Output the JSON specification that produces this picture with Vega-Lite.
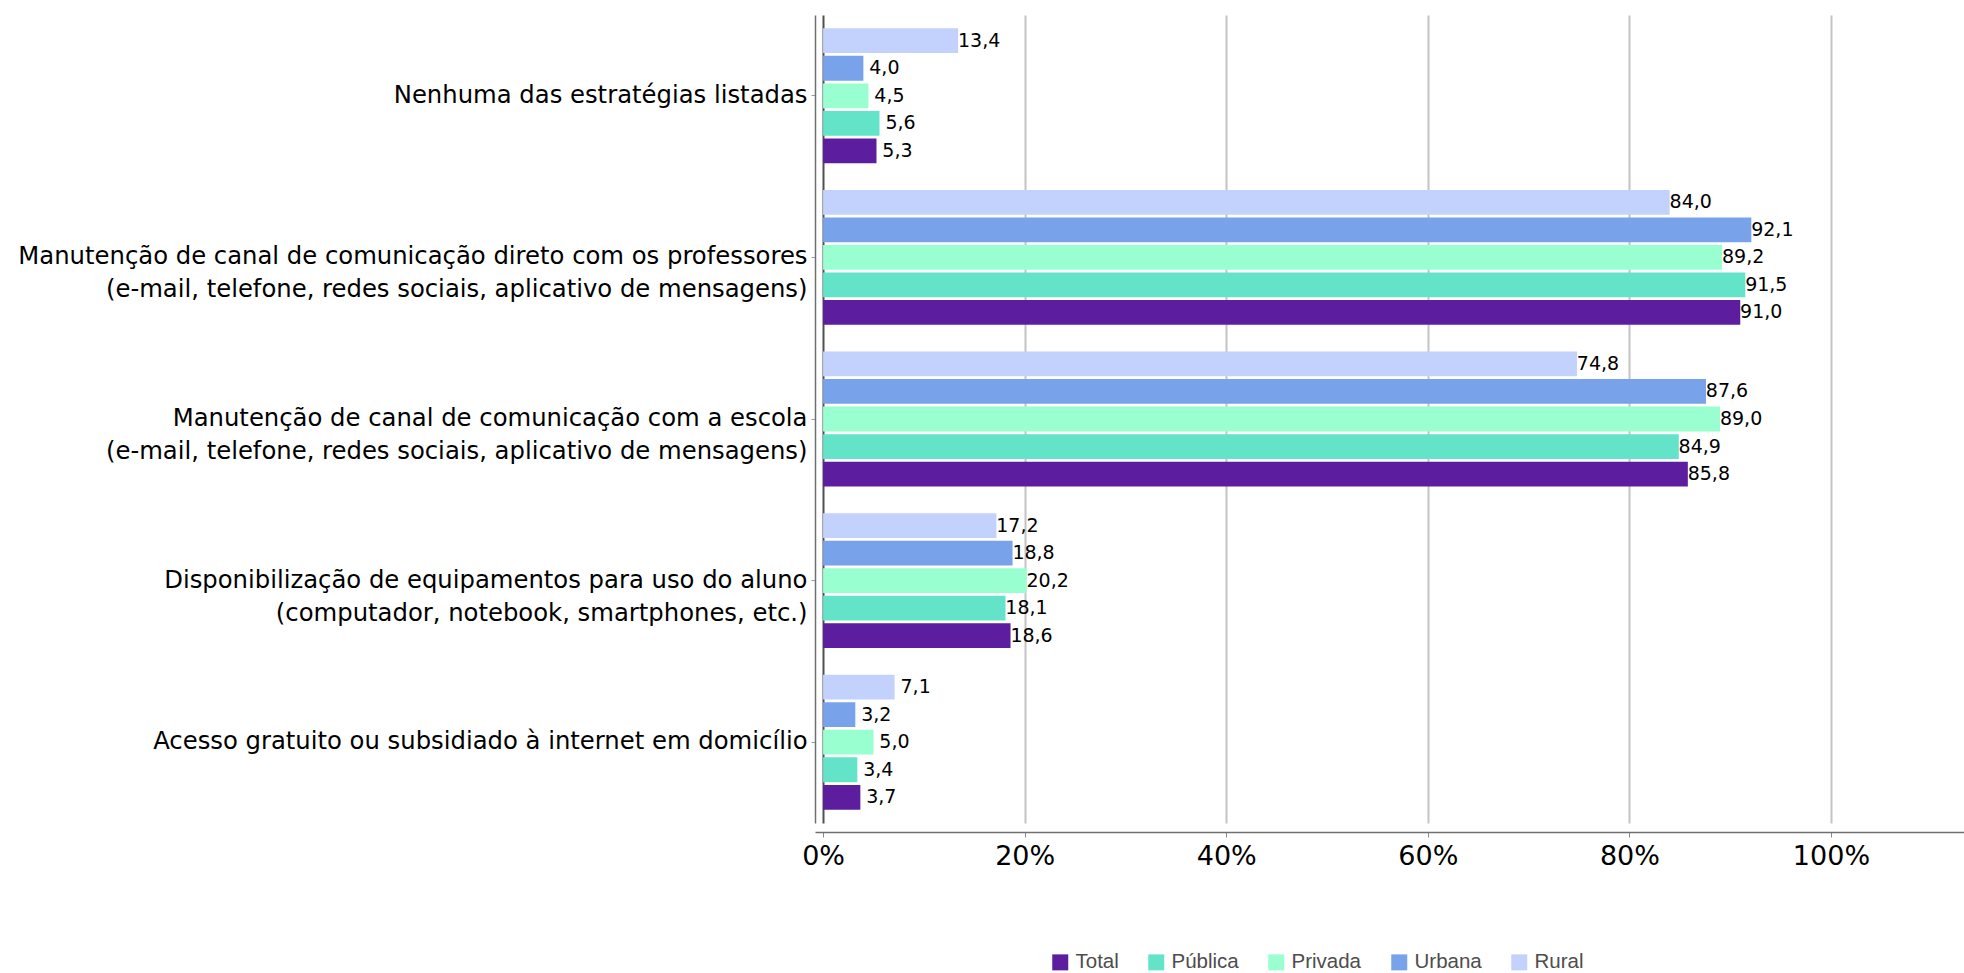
{
  "$schema": "https://vega.github.io/schema/vega-lite/v6.json",
  "width": 1149,
  "height": 808,
  "autosize": {"type": "none"},
  "padding": {"left": 815, "top": 15, "right": 0, "bottom": 150},
  "background": "white",
  "config": {
    "view": {"stroke": null},
    "locale": {"number": {"decimal": ",", "thousands": ".", "grouping": [3], "currency": ["R$", ""]}}
  },
  "data": {
    "values": [
      {"estrategia": "Nenhuma das estratégias listadas", "grupo": "Total", "valor": 5.3},
      {"estrategia": "Nenhuma das estratégias listadas", "grupo": "Pública", "valor": 5.6},
      {"estrategia": "Nenhuma das estratégias listadas", "grupo": "Privada", "valor": 4.5},
      {"estrategia": "Nenhuma das estratégias listadas", "grupo": "Urbana", "valor": 4.0},
      {"estrategia": "Nenhuma das estratégias listadas", "grupo": "Rural", "valor": 13.4},
      {"estrategia": "Manutenção de canal de comunicação direto com os professores\u00a0\n(e-mail, telefone, redes sociais, aplicativo de mensagens)", "grupo": "Total", "valor": 91.0},
      {"estrategia": "Manutenção de canal de comunicação direto com os professores\u00a0\n(e-mail, telefone, redes sociais, aplicativo de mensagens)", "grupo": "Pública", "valor": 91.5},
      {"estrategia": "Manutenção de canal de comunicação direto com os professores\u00a0\n(e-mail, telefone, redes sociais, aplicativo de mensagens)", "grupo": "Privada", "valor": 89.2},
      {"estrategia": "Manutenção de canal de comunicação direto com os professores\u00a0\n(e-mail, telefone, redes sociais, aplicativo de mensagens)", "grupo": "Urbana", "valor": 92.1},
      {"estrategia": "Manutenção de canal de comunicação direto com os professores\u00a0\n(e-mail, telefone, redes sociais, aplicativo de mensagens)", "grupo": "Rural", "valor": 84.0},
      {"estrategia": "Manutenção de canal de comunicação com a escola\u00a0\n(e-mail, telefone, redes sociais, aplicativo de mensagens)", "grupo": "Total", "valor": 85.8},
      {"estrategia": "Manutenção de canal de comunicação com a escola\u00a0\n(e-mail, telefone, redes sociais, aplicativo de mensagens)", "grupo": "Pública", "valor": 84.9},
      {"estrategia": "Manutenção de canal de comunicação com a escola\u00a0\n(e-mail, telefone, redes sociais, aplicativo de mensagens)", "grupo": "Privada", "valor": 89.0},
      {"estrategia": "Manutenção de canal de comunicação com a escola\u00a0\n(e-mail, telefone, redes sociais, aplicativo de mensagens)", "grupo": "Urbana", "valor": 87.6},
      {"estrategia": "Manutenção de canal de comunicação com a escola\u00a0\n(e-mail, telefone, redes sociais, aplicativo de mensagens)", "grupo": "Rural", "valor": 74.8},
      {"estrategia": "Disponibilização de equipamentos para uso do aluno\u00a0\n(computador, notebook, smartphones, etc.)", "grupo": "Total", "valor": 18.6},
      {"estrategia": "Disponibilização de equipamentos para uso do aluno\u00a0\n(computador, notebook, smartphones, etc.)", "grupo": "Pública", "valor": 18.1},
      {"estrategia": "Disponibilização de equipamentos para uso do aluno\u00a0\n(computador, notebook, smartphones, etc.)", "grupo": "Privada", "valor": 20.2},
      {"estrategia": "Disponibilização de equipamentos para uso do aluno\u00a0\n(computador, notebook, smartphones, etc.)", "grupo": "Urbana", "valor": 18.8},
      {"estrategia": "Disponibilização de equipamentos para uso do aluno\u00a0\n(computador, notebook, smartphones, etc.)", "grupo": "Rural", "valor": 17.2},
      {"estrategia": "Acesso gratuito ou subsidiado à internet em domicílio", "grupo": "Total", "valor": 3.7},
      {"estrategia": "Acesso gratuito ou subsidiado à internet em domicílio", "grupo": "Pública", "valor": 3.4},
      {"estrategia": "Acesso gratuito ou subsidiado à internet em domicílio", "grupo": "Privada", "valor": 5.0},
      {"estrategia": "Acesso gratuito ou subsidiado à internet em domicílio", "grupo": "Urbana", "valor": 3.2},
      {"estrategia": "Acesso gratuito ou subsidiado à internet em domicílio", "grupo": "Rural", "valor": 7.1}
    ]
  },
  "encoding": {
    "y": {
      "field": "estrategia",
      "type": "nominal",
      "sort": null,
      "scale": {"paddingInner": 0.165, "paddingOuter": 0.0825},
      "axis": {
        "title": null,
        "labelExpr": "split(datum.label, '\\n')",
        "labelFont": "DejaVu Sans",
        "labelFontSize": 24.3,
        "labelColor": "black",
        "labelLineHeight": 33,
        "labelLimit": 0,
        "tickSize": 4,
        "tickColor": "#9a9a9a",
        "labelPadding": 4,
        "domainColor": "#707070",
        "domainWidth": 1.5,
        "grid": false
      }
    },
    "yOffset": {
      "field": "grupo",
      "type": "nominal",
      "sort": ["Rural", "Urbana", "Privada", "Pública", "Total"],
      "scale": {"paddingInner": 0.1, "paddingOuter": 0}
    },
    "x": {
      "field": "valor",
      "type": "quantitative",
      "stack": null,
      "scale": {"domain": [-0.8, 113.2], "nice": false, "zero": false},
      "axis": {
        "title": null,
        "values": [0, 20, 40, 60, 80, 100],
        "labelExpr": "datum.value + '%'",
        "labelFont": "DejaVu Sans",
        "labelFontSize": 27,
        "labelColor": "black",
        "labelFlush": false,
        "grid": true,
        "gridColor": {"condition": {"test": "datum.value === 0", "value": "#505050"}, "value": "#c4c4c4"},
        "gridWidth": 2,
        "offset": 9,
        "tickSize": 5,
        "tickColor": "#8a8a8a",
        "labelPadding": 6,
        "domainColor": "#707070",
        "domainWidth": 1.5
      }
    }
  },
  "layer": [
    {
      "mark": {"type": "bar"},
      "encoding": {
        "x2": {"datum": 0},
        "color": {
          "field": "grupo",
          "type": "nominal",
          "scale": {
            "domain": ["Total", "Pública", "Privada", "Urbana", "Rural"],
            "range": ["#5c1e9e", "#63e3c7", "#9affd0", "#78a2ea", "#c2d2fc"]
          },
          "legend": {
            "title": null,
            "orient": "none",
            "direction": "horizontal",
            "legendX": 235,
            "legendY": 937,
            "padding": 0,
            "symbolType": "square",
            "symbolSize": 256,
            "symbolStrokeWidth": 0,
            "symbolOpacity": 1,
            "labelFont": "Liberation Sans",
            "labelFontSize": 20.5,
            "labelColor": "#4d4d4d",
            "labelOffset": 5,
            "columnPadding": 27
          }
        }
      }
    },
    {
      "mark": {"type": "text", "align": "center", "dx": 21, "baseline": "middle", "fontSize": 19, "font": "DejaVu Sans", "color": "black"},
      "encoding": {
        "text": {"field": "valor", "type": "quantitative", "format": ".1f"}
      }
    }
  ]
}
